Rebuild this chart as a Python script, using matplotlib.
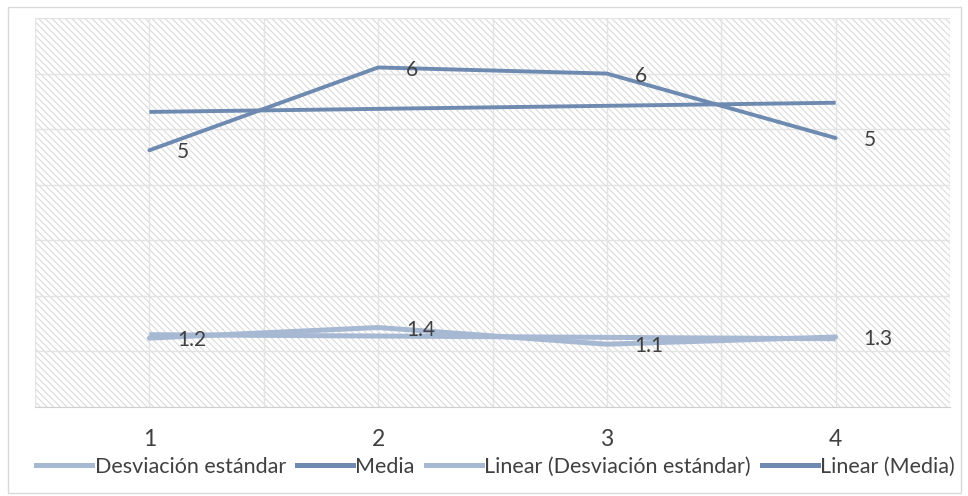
import matplotlib.pyplot as plt
from matplotlib.patches import Rectangle
from matplotlib.lines import Line2D
import numpy as np

# data
categorias = [1, 2, 3, 4]
desviacion = [1.24, 1.43, 1.13, 1.26]
media = [4.62, 6.11, 6.00, 4.84]
etiquetas_desv = ["1.2", "1.4", "1.1", "1.3"]
etiquetas_media = ["5", "6", "6", "5"]

c_desv = '#a7b8d3'
c_media = '#6e8ab0'
c_text = '#404040'
fuente = ['Lato', 'DejaVu Sans']

plt.rcParams['hatch.linewidth'] = 0.8

fig = plt.figure(figsize=(9.68, 4.96), dpi=100)
fig.patch.set_facecolor('white')
fig.add_artist(Rectangle((0.008, 0.006), 0.985, 0.98, transform=fig.transFigure,
                         facecolor='none', edgecolor='#d9d9d9', lw=1.0))

ax = fig.add_axes([35/968, 89/496, 915/968, 389/496])
ax.set_xlim(0.5, 4.5)
ax.set_ylim(0, 7)

# hatched background
ax.add_patch(Rectangle((0, 0), 1, 1, transform=ax.transAxes, facecolor='white',
                       edgecolor='#dadada', hatch='\\\\\\\\\\', lw=0, zorder=0))

for v in np.arange(0.5, 4.51, 0.5):
    ax.axvline(v, color='#e3e3e3', lw=1.0, zorder=1)
for h in range(0, 8):
    ax.axhline(h, color='#e3e3e3', lw=1.0, zorder=1)

x = np.array(categorias)
ax.plot(x, desviacion, color=c_desv, lw=3.6, solid_capstyle='round', zorder=3)
ax.plot(x, media, color=c_media, lw=2.8, solid_capstyle='round', zorder=3)

# linear trend lines
p1 = np.polyfit(x, desviacion, 1)
p2 = np.polyfit(x, media, 1)
ax.plot(x, np.polyval(p1, x), color=c_desv, lw=3.6, solid_capstyle='butt', zorder=3)
ax.plot(x, np.polyval(p2, x), color=c_media, lw=2.8, solid_capstyle='butt', zorder=3)

for xi, yi, t in zip(x, desviacion, etiquetas_desv):
    ax.annotate(t, (xi, yi), xytext=(20, -1.5), textcoords='offset points', ha='left',
                va='center', fontsize=15, color=c_text, family=fuente, zorder=4)
for xi, yi, t in zip(x, media, etiquetas_media):
    ax.annotate(t, (xi, yi), xytext=(20, -1.5), textcoords='offset points', ha='left',
                va='center', fontsize=15, color=c_text, family=fuente, zorder=4)

ax.set_xticks(categorias)
ax.set_xticklabels([str(c) for c in categorias], fontsize=16.5, color=c_text, family=fuente)
ax.set_yticks([])
ax.tick_params(axis='x', length=0, pad=16)
for s in ax.spines.values():
    s.set_visible(False)
ax.spines['bottom'].set_visible(True)
ax.spines['bottom'].set_color('#d0d0d0')

handles = [Line2D([], [], color=c_desv, lw=3.6),
           Line2D([], [], color=c_media, lw=3.6),
           Line2D([], [], color=c_desv, lw=3.6),
           Line2D([], [], color=c_media, lw=3.6)]
labels = ['Desviación estándar', 'Media', 'Linear (Desviación estándar)', 'Linear (Media)']
fig.legend(handles, labels, loc='center', bbox_to_anchor=(0.512, 1 - 467/496), ncol=4,
           frameon=False, handlelength=2.6, handletextpad=0.12, columnspacing=0.5,
           prop={'family': fuente, 'size': 15.5}, labelcolor=c_text)

fig.savefig('out.png', dpi=100)
